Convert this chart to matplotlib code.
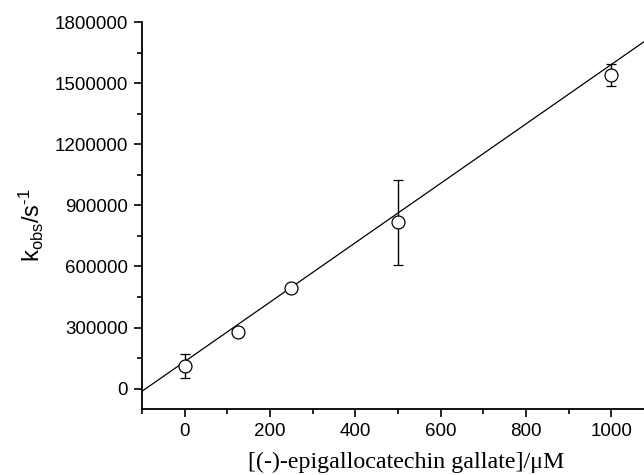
import matplotlib
matplotlib.use("Agg")
import matplotlib.pyplot as plt
import numpy as np
from matplotlib.ticker import MultipleLocator

# Data
conc = [0, 125, 250, 500, 1000]
kobs = [110000, 277000, 495000, 816000, 1540000]
kerr = [60000, 15000, 15000, 208000, 52000]
fit_intercept = 132900
fit_slope = 1458.6
xticks = [0, 200, 400, 600, 800, 1000]
yticks = [0, 300000, 600000, 900000, 1200000, 1500000, 1800000]
ytick_labels = [str(v) for v in yticks]

plt.rcParams['font.family'] = ['Liberation Sans', 'DejaVu Sans']
plt.rcParams['mathtext.fontset'] = 'custom'
plt.rcParams['mathtext.rm'] = 'Liberation Sans'
plt.rcParams['mathtext.it'] = 'Liberation Sans'

fig = plt.figure(figsize=(6.44, 4.75), dpi=100)
ax = fig.add_axes([142/644, 66/475, 512/644, 387/475])

xfit = np.array([-100, 1100])
ax.plot(xfit, fit_intercept + fit_slope * xfit, color='black', lw=0.9, zorder=2)
ax.errorbar(conc, kobs, yerr=kerr, fmt='o', mfc='white', mec='black', ecolor='black',
            ms=9.3, mew=0.9, elinewidth=1.0, capsize=3.3, capthick=1.0, zorder=3)

ax.set_xlim(-100, 1100)
ax.set_ylim(-100000, 1800000)
ax.set_xticks(xticks)
ax.set_yticks(yticks)
ax.set_yticklabels(ytick_labels)
ax.xaxis.set_minor_locator(MultipleLocator(100))
ax.yaxis.set_minor_locator(MultipleLocator(150000))
ax.tick_params(which='major', direction='out', length=6, width=1.2, labelsize=13.5, pad=4)
ax.tick_params(which='minor', direction='out', length=3.5, width=1.2)
ax.spines['top'].set_visible(False)
ax.spines['right'].set_visible(False)
for s in ['left', 'bottom']:
    ax.spines[s].set_linewidth(1.3)

ax.set_xlabel('[(-)-epigallocatechin gallate]/μM', family=['Liberation Serif', 'DejaVu Serif'],
              fontsize=17.3)
ax.xaxis.set_label_coords(0.5156, -0.11)
ax.set_ylabel(r'k$_{\mathregular{obs}}$/s$^{\mathregular{\text{-}1}}$', fontsize=17)
ax.yaxis.set_label_coords(-0.188, 0.475)

fig.savefig('out.png', dpi=100)
